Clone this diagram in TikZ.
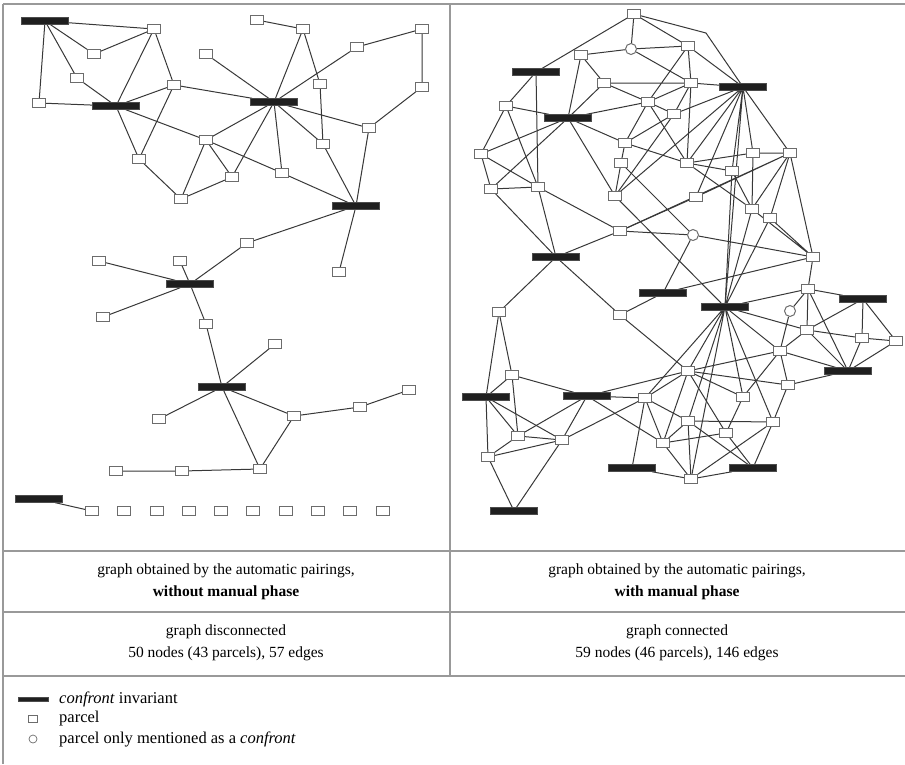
\documentclass[tikz,border=0pt]{standalone}
\usepackage{fontspec}
\setmainfont{Liberation Serif}
\usepackage{tikz}
\pgfdeclarelayer{bg}
\pgfsetlayers{bg,main}

\begin{document}
\begin{tikzpicture}[x=1pt,y=-1pt]
			\tikzstyle{every node}+=[inner sep=0pt]
			\tikzstyle{parcel}=[draw=gray!85!black, fill=white, line width=1pt, minimum width=13pt, minimum height=8.5pt]
			\tikzstyle{confront}=[fill=black!88, draw=black!70, line width=0.4pt, minimum width=47pt, minimum height=7pt]
			\tikzstyle{mentioned}=[circle, draw=gray!85!black, fill=white, line width=1pt, minimum size=11pt]
			\tikzstyle{link}=[black!78, line width=1pt]
			\tikzstyle{frame}=[gray!80, line width=1.1pt]
			\tikzstyle{caption}=[align=center, font=\fontsize{15.5}{22.5}\selectfont]
			\tikzstyle{legend}=[anchor=west, font=\fontsize{16.5}{20}\selectfont]
			\useasboundingbox (0,0) rectangle (905,764);
			\draw [frame] (3,4) -- (905,4);
			\draw [frame] (3,4) -- (3,764);
			\draw [frame] (450,4) -- (450,676);
			\draw [frame] (3,551) -- (905,551);
			\draw [frame] (3,612) -- (905,612);
			\draw [frame] (3,676) -- (905,676);
			\node [confront] (c1) at (45,21) {};
			\node [confront] (c2) at (116,106) {};
			\node [confront] (c3) at (274,102) {};
			\node [confront] (c4) at (356,206) {};
			\node [confront] (c5) at (190,284) {};
			\node [confront] (c6) at (222,387) {};
			\node [confront] (c7) at (39,499) {};
			\node [parcel] (p1) at (154,29) {};
			\node [parcel] (p2) at (94,54) {};
			\node [parcel] (p3) at (77,78) {};
			\node [parcel] (p4) at (39,103) {};
			\node [parcel] (p5) at (174,85) {};
			\node [parcel] (p6) at (206,54) {};
			\node [parcel] (p7) at (257,20) {};
			\node [parcel] (p8) at (303,29) {};
			\node [parcel] (p9) at (357,47) {};
			\node [parcel] (p10) at (422,29) {};
			\node [parcel] (p11) at (422,87) {};
			\node [parcel] (p12) at (320,84) {};
			\node [parcel] (p13) at (369,128) {};
			\node [parcel] (p14) at (323,144) {};
			\node [parcel] (p15) at (206,140) {};
			\node [parcel] (p16) at (139,159) {};
			\node [parcel] (p17) at (232,177) {};
			\node [parcel] (p18) at (181,199) {};
			\node [parcel] (p19) at (282,173) {};
			\node [parcel] (p20) at (247,243) {};
			\node [parcel] (p21) at (339,272) {};
			\node [parcel] (p22) at (99,261) {};
			\node [parcel] (p23) at (180,261) {};
			\node [parcel] (p24) at (103,317) {};
			\node [parcel] (p25) at (206,324) {};
			\node [parcel] (p26) at (275,344) {};
			\node [parcel] (p27) at (159,419) {};
			\node [parcel] (p28) at (294,416) {};
			\node [parcel] (p29) at (360,407) {};
			\node [parcel] (p30) at (409,390) {};
			\node [parcel] (p31) at (260,469) {};
			\node [parcel] (p32) at (182,471) {};
			\node [parcel] (p33) at (116,471) {};
			\node [parcel] (s1) at (92,511) {};
			\node [parcel] (s2) at (124,511) {};
			\node [parcel] (s3) at (157,511) {};
			\node [parcel] (s4) at (189,511) {};
			\node [parcel] (s5) at (221,511) {};
			\node [parcel] (s6) at (253,511) {};
			\node [parcel] (s7) at (286,511) {};
			\node [parcel] (s8) at (318,511) {};
			\node [parcel] (s9) at (350,511) {};
			\node [parcel] (s10) at (383,511) {};
			\node [confront] (k1) at (536,72) {};
			\node [confront] (k2) at (568,118) {};
			\node [confront] (k3) at (743,87) {};
			\node [confront] (k4) at (556,257) {};
			\node [confront] (k5) at (663,293) {};
			\node [confront] (k6) at (486,397) {};
			\node [confront] (k7) at (587,396) {};
			\node [confront] (k8) at (725,307) {};
			\node [confront] (k9) at (863,299) {};
			\node [confront] (k10) at (848,371) {};
			\node [confront] (k11) at (632,468) {};
			\node [confront] (k12) at (753,468) {};
			\node [confront] (k13) at (514,511) {};
			\node [mentioned] (o1) at (631,49) {};
			\node [mentioned] (o2) at (693,235) {};
			\node [mentioned] (o3) at (790,311) {};
			\node [parcel] (ra) at (634,14) {};
			\node [parcel] (rb1) at (581,55) {};
			\node [parcel] (rb2) at (604,83) {};
			\node [parcel] (rb3) at (648,102) {};
			\node [parcel] (rb4) at (674,114) {};
			\node [parcel] (rb5) at (506,106) {};
			\node [parcel] (rb6) at (625,143) {};
			\node [parcel] (rb7) at (481,154) {};
			\node [parcel] (rb8) at (621,163) {};
			\node [parcel] (rb9) at (491,189) {};
			\node [parcel] (rb10) at (538,187) {};
			\node [parcel] (rb11) at (615,196) {};
			\node [parcel] (rb12) at (620,231) {};
			\node [parcel] (rb13) at (499,312) {};
			\node [parcel] (rb14) at (620,315) {};
			\node [parcel] (rb15) at (512,375) {};
			\node [parcel] (rc1) at (688,46) {};
			\node [parcel] (rc2) at (691,83) {};
			\node [parcel] (rc4) at (753,153) {};
			\node [parcel] (rc5) at (790,153) {};
			\node [parcel] (rc6) at (687,163) {};
			\node [parcel] (rc7) at (732,171) {};
			\node [parcel] (rc8) at (696,197) {};
			\node [parcel] (rc9) at (752,209) {};
			\node [parcel] (rc10) at (770,218) {};
			\node [parcel] (rd1) at (813,257) {};
			\node [parcel] (rd2) at (808,289) {};
			\node [parcel] (rd3) at (807,330) {};
			\node [parcel] (rd4) at (780,351) {};
			\node [parcel] (rd5) at (788,385) {};
			\node [parcel] (rd6) at (862,338) {};
			\node [parcel] (rd7) at (896,341) {};
			\node [parcel] (re1) at (688,371) {};
			\node [parcel] (re2) at (645,398) {};
			\node [parcel] (re3) at (743,397) {};
			\node [parcel] (re4) at (688,421) {};
			\node [parcel] (re5) at (773,422) {};
			\node [parcel] (re6) at (726,433) {};
			\node [parcel] (re7) at (663,443) {};
			\node [parcel] (re8) at (691,479) {};
			\node [parcel] (rf1) at (518,436) {};
			\node [parcel] (rf2) at (562,440) {};
			\node [parcel] (rf3) at (488,457) {};
			\coordinate (rbend) at (706,33);
			\begin{pgfonlayer}{bg}
			\draw [link] (c1) -- (p1) (c1) -- (p2) (c1) -- (p3) (c1) -- (p4);
			\draw [link] (p2) -- (p1) (p1) -- (c2) (p1) -- (p5);
			\draw [link] (c2) -- (p4) (c2) -- (p3) (c2) -- (p5) (c2) -- (p16) (c2) -- (p15);
			\draw [link] (p5) -- (p16) (p5) -- (c3);
			\draw [link] (p16) -- (p18) (p15) -- (p18) (p15) -- (p17) (p18) -- (p17) (p15) -- (p19) (p15) -- (c3);
			\draw [link] (c3) -- (p17) (c3) -- (p19) (c3) -- (p6) (c3) -- (p8) (c3) -- (p14) (c3) -- (p9) (c3) -- (p13);
			\draw [link] (p8) -- (p7) (p8) -- (p12) (p12) -- (p14) (p9) -- (p10) (p10) -- (p11) (p11) -- (p13);
			\draw [link] (c4) -- (p19) (c4) -- (p13) (c4) -- (p14) (c4) -- (p20) (c4) -- (p21);
			\draw [link] (c5) -- (p20) (c5) -- (p22) (c5) -- (p23) (c5) -- (p24) (c5) -- (p25);
			\draw [link] (c6) -- (p25) (c6) -- (p26) (c6) -- (p27) (c6) -- (p28) (c6) -- (p31);
			\draw [link] (p28) -- (p29) (p29) -- (p30) (p28) -- (p31) (p31) -- (p32) (p32) -- (p33);
			\draw [link] (c7) -- (s1);
			\draw [link] (ra) -- (k1) (ra) -- (o1) (ra) -- (rc1) (ra) -- (rbend) -- (k3);
			\draw [link] (o1) -- (rb1) (o1) -- (rc1) (o1) -- (rc2) (rb1) -- (rb2) (rb1) -- (k2);
			\draw [link] (k1) -- (rb5) (k1) -- (rb10) (rb5) -- (k2) (rb5) -- (rb7) (rb5) -- (rb10);
			\draw [link] (k2) -- (rb2) (k2) -- (rb3) (k2) -- (rb7) (k2) -- (rb9) (k2) -- (rb6) (k2) -- (rb11);
			\draw [link] (rb7) -- (rb9) (rb7) -- (rb10) (rb9) -- (rb10) (rb9) -- (k4) (rb10) -- (k4) (rb10) -- (rb12);
			\draw [link] (rb2) -- (rb3) (rb2) -- (rc2) (rb3) -- (rc2) (rb3) -- (rc1) (rb3) -- (rb4) (rb3) -- (rb6) (rb3) -- (rc6);
			\draw [link] (rb4) -- (rc2) (rb4) -- (k3) (rb4) -- (rb6) (rb4) -- (rb11);
			\draw [link] (rc1) -- (rc2) (rc1) -- (k3) (rc2) -- (k3) (rc2) -- (rc6);
			\draw [link] (k3) -- (rb11) (k3) -- (rc6) (k3) -- (rc8) (k3) -- (rc7) (k3) -- (rc4) (k3) -- (rc5) (k3) -- (k8);
			\draw [link] (rc4) -- (rc5) (rc4) -- (rc6) (rc4) -- (rc9) (rc6) -- (rc7) (rc7) -- (rc9) (rc6) -- (rc9);
			\draw [link] (rb6) -- (rc6) (rb6) -- (rb8) (rb8) -- (rb11) (rb8) -- (o2);
			\draw [link] (rc5) -- (rc8) (rc5) -- (rc9) (rc5) -- (rc10) (rc5) -- (rd1) (rc5) -- (rb12);
			\draw [link] (rc8) -- (rb12) (rc9) -- (rd1) (rc10) -- (rd1) (rc10) -- (k8) (rc9) -- (k8) (rc7) -- (k8);
			\draw [link] (rb12) -- (o2) (rb12) -- (k4) (rb11) -- (k8) (o2) -- (k5) (o2) -- (rd1);
			\draw [link] (k4) -- (rb13) (k4) -- (rb14) (k5) -- (rb14) (k5) -- (rd1) (rb14) -- (re1);
			\draw [link] (rd1) -- (rd2) (rd2) -- (k8) (rd2) -- (k9) (rd2) -- (o3) (rd2) -- (rd3) (rd2) -- (k10);
			\draw [link] (o3) -- (rd4) (rd3) -- (k8) (rd3) -- (k9) (rd3) -- (rd6) (rd3) -- (rd4) (rd3) -- (k10);
			\draw [link] (k9) -- (rd6) (k9) -- (rd7) (rd6) -- (rd7) (rd6) -- (k10) (rd7) -- (k10);
			\draw [link] (k10) -- (rd4) (k10) -- (rd5) (rd4) -- (rd5) (rd4) -- (re1) (rd4) -- (k8) (re1) -- (rd5);
			\draw [link] (k8) -- (re1) (k8) -- (re2) (k8) -- (re4) (k8) -- (re8) (k8) -- (re5) (k8) -- (re3);
			\draw [link] (re1) -- (re2) (re1) -- (k7) (re1) -- (re3) (re1) -- (re6) (re1) -- (re7);
			\draw [link] (k7) -- (rb15) (k7) -- (rf1) (k7) -- (rf2) (k7) -- (re2) (k7) -- (re7);
			\draw [link] (re2) -- (rf2) (re2) -- (re7) (re2) -- (re4) (re2) -- (k11);
			\draw [link] (re3) -- (re6) (re3) -- (rd4) (re4) -- (re5) (re4) -- (re7) (re4) -- (re8) (re4) -- (k12);
			\draw [link] (re5) -- (k12) (re5) -- (re8) (re5) -- (rd5) (re6) -- (re7) (re6) -- (k12);
			\draw [link] (re7) -- (re8) (re8) -- (k11) (re8) -- (k12);
			\draw [link] (rb13) -- (k6) (rb13) -- (rb15) (rb15) -- (k6) (rb15) -- (rf1);
			\draw [link] (k6) -- (rf1) (k6) -- (rf2) (k6) -- (rf3) (rf1) -- (rf2) (rf1) -- (rf3) (rf2) -- (rf3);
			\draw [link] (rf2) -- (k13) (rf3) -- (k13);
			\end{pgfonlayer}
			\node [caption] (capl) at (226,582) {graph obtained by the automatic pairings,\\\textbf{without manual phase}};
			\node [caption] (capr) at (677,582) {graph obtained by the automatic pairings,\\\textbf{with manual phase}};
			\node [caption] (statl) at (226,643) {graph disconnected\\50 nodes (43 parcels), 57 edges};
			\node [caption] (statr) at (677,643) {graph connected\\59 nodes (46 parcels), 146 edges};
			\node [confront, minimum width=30pt, minimum height=4.5pt] (legc) at (33,699) {};
			\node [parcel, minimum width=9pt, minimum height=7pt, line width=0.7pt] (legp) at (33,719) {};
			\node [mentioned, minimum size=8pt, line width=0.7pt] (lego) at (33,739) {};
			\node [legend] (legct) at (59,699) {\textit{confront} invariant};
			\node [legend] (legpt) at (59,719) {parcel};
			\node [legend] (legot) at (59,739) {parcel only mentioned as a \textit{confront}};
			\end{tikzpicture}
\end{document}
